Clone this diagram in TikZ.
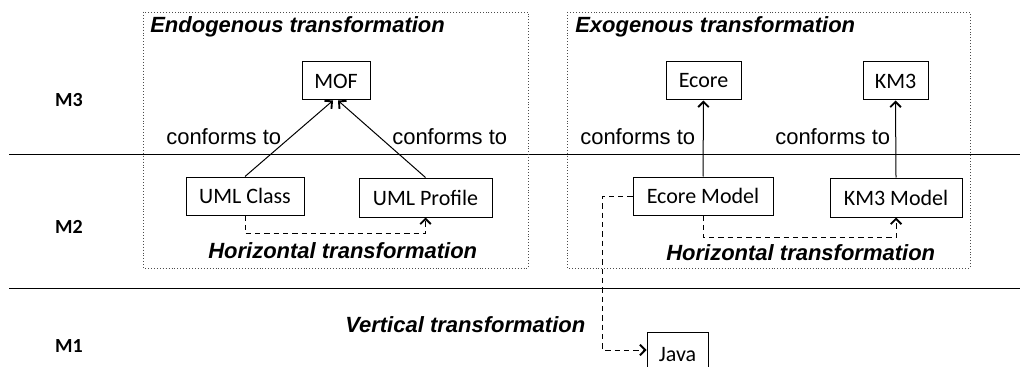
\documentclass[tikz,border=0pt]{standalone}
\usepackage{fontspec}
\setmainfont{Liberation Sans}
\newfontfamily\boxfont{Carlito}
\usetikzlibrary{arrows.meta}

\tikzset{
  mbox/.style={draw, line width=0.75pt, inner sep=0pt, font=\boxfont\fontsize{16.5}{18}\selectfont,
    minimum height=28.5pt},
  frame/.style={draw=black!70, line width=0.6pt, dash pattern=on 0.6pt off 1.6pt},
  level/.style={line width=0.75pt},
  lvl/.style={font=\boxfont\bfseries\fontsize{15}{17}\selectfont},
  title/.style={anchor=base west, inner sep=0pt, font=\bfseries\itshape\fontsize{16.5}{18}\selectfont},
  rel/.style={anchor=base west, inner sep=0pt, font=\fontsize{16.5}{18}\selectfont},
  conf/.style={line width=0.75pt, -{Straight Barb[length=4pt,width=8pt,line width=1.4pt]}},
  trans/.style={line width=0.75pt, dash pattern=on 4pt off 3pt,
    -{Straight Barb[length=4pt,width=8pt,line width=1.4pt]}}
}

\begin{document}
\begin{tikzpicture}[x=0.75pt, y=-0.75pt]
\useasboundingbox (0,0) rectangle (1020,367);
\clip (0,0) rectangle (1020,367);

% metamodelling levels
\draw[level] (9,155) -- (1020,155);
\draw[level] (9,288) -- (1020,288);
\node[lvl] (m3) at (69,100) {M3};
\node[lvl] (m2) at (69,227) {M2};
\node[lvl] (m1) at (69,346) {M1};

% transformation frames
\draw[frame] (143,12) rectangle (528,268);
\draw[frame] (567,12) rectangle (970,268);
\node[title] (endo) at (150,33) {Endogenous transformation};
\node[title] (exo) at (575,33) {Exogenous transformation};

% endogenous side
\node[mbox, minimum width=51pt] (mof) at (336,81) {MOF};
\node[mbox, minimum width=88.5pt] (umlclass) at (245,196) {UML Class};
\node[mbox, minimum width=99.75pt, minimum height=29.25pt] (umlprofile) at (425.5,197.5) {UML Profile};
\draw[conf] (umlclass.north) -- ([xshift=-2.25pt]mof.south);
\draw[conf] (umlprofile.north) -- ([xshift=1.5pt]mof.south);
\node[rel] (c1) at (166,145) {conforms to};
\node[rel] (c2) at (392,145) {conforms to};
\draw[trans] (umlclass.south) -- ++(0,18) -| (umlprofile.south);
\node[title] (h1) at (208,258) {Horizontal transformation};

% exogenous side
\node[mbox, minimum width=56.25pt] (ecore) at (703.5,81) {Ecore};
\node[mbox, minimum width=48.75pt] (km3) at (895.5,81) {KM3};
\node[mbox, minimum width=105pt] (ecoremodel) at (703,196) {Ecore Model};
\node[mbox, minimum width=99pt, minimum height=29.25pt] (km3model) at (896,197.5) {KM3 Model};
\draw[conf] (ecoremodel.north) -- (ecore.south);
\draw[conf] (km3model.north) -- (km3.south);
\node[rel] (c3) at (580,145) {conforms to};
\node[rel] (c4) at (775,145) {conforms to};
\draw[trans] (ecoremodel.south) -- ++(0,22) -| (km3model.south);
\node[title] (h2) at (666,260) {Horizontal transformation};

% code generation towards M1
\node[mbox, minimum width=45.75pt, minimum height=34.5pt] (java) at (677.5,355) {Java};
\draw[trans] (ecoremodel.west) -- ++(-30,0) |- ([yshift=3.75pt]java.west);
\node[title] (vt) at (345,332) {Vertical transformation};
\end{tikzpicture}
\end{document}
